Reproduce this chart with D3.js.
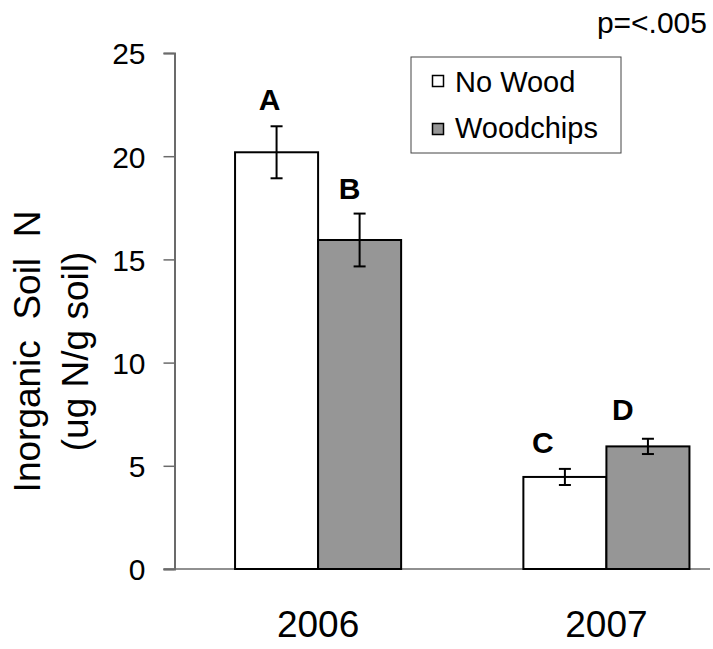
<!DOCTYPE html>
<html>
<head>
<meta charset="utf-8">
<script src="https://cdn.jsdelivr.net/npm/d3@7"></script>
<style>
  html, body { margin: 0; padding: 0; background: #fff; }
  svg { display: block; }
  text { font-family: "Liberation Sans", Arial, sans-serif; fill: #000; }
</style>
</head>
<body>
<svg id="chart" width="713" height="649"></svg>
<script>
// ---- data ----
const years = ["2006", "2007"];
const seriesNames = ["No Wood", "Woodchips"];
const noWood = [20.19, 4.46];
const woodchips = [15.94, 5.94];
const noWoodErr = [1.26, 0.39];
const woodchipsErr = [1.28, 0.37];
const letters = [["A", "C"], ["B", "D"]]; // [series][year]
const yTicks = [0, 5, 10, 15, 20, 25];
const pLabel = "p=<.005";
const yTitle = ["Inorganic  Soil  N", "(ug N/g soil)"];

// ---- layout ----
const W = 713, H = 649;
const axisX = 174.5, baseY = 569, topY = 53;
const svg = d3.select("#chart");
const colors = ["#ffffff", "#969696"];

const y = d3.scaleLinear().domain([0, 25]).range([baseY, topY]);
const x0 = d3.scaleBand().domain(years).range([axisX, 750]).paddingInner(0.424).paddingOuter(0.21);
const x1 = d3.scaleBand().domain(seriesNames).range([0, x0.bandwidth()]);

const values = [noWood, woodchips];
const errs = [noWoodErr, woodchipsErr];
const rows = [];
seriesNames.forEach((s, si) => {
  years.forEach((yr, yi) => {
    rows.push({ s, si, yr, yi, v: values[si][yi], e: errs[si][yi], letter: letters[si][yi] });
  });
});

// x baseline
svg.append("line")
  .attr("x1", axisX - 11).attr("x2", W - 3)
  .attr("y1", y(0)).attr("y2", y(0))
  .attr("stroke", "#6b6b6b").attr("stroke-width", 1.5);

// bars
svg.append("g").selectAll("rect").data(rows).join("rect")
  .attr("x", d => x0(d.yr) + x1(d.s))
  .attr("y", d => y(d.v))
  .attr("width", x1.bandwidth())
  .attr("height", d => y(0) - y(d.v))
  .attr("fill", d => colors[d.si])
  .attr("stroke", "#000").attr("stroke-width", 2);

// error bars
const eg = svg.append("g").attr("stroke", "#000").attr("stroke-width", 2);
rows.forEach(d => {
  const cx = x0(d.yr) + x1(d.s) + x1.bandwidth() / 2;
  eg.append("line").attr("x1", cx).attr("x2", cx).attr("y1", y(d.v + d.e)).attr("y2", y(d.v - d.e));
  eg.append("line").attr("x1", cx - 6).attr("x2", cx + 6).attr("y1", y(d.v + d.e)).attr("y2", y(d.v + d.e));
  eg.append("line").attr("x1", cx - 6).attr("x2", cx + 6).attr("y1", y(d.v - d.e)).attr("y2", y(d.v - d.e));
});

// significance letters
const letterDx = [[-7, -22], [-10, -25]];
const letterDy = [[-16, -16], [-15, -19]];
svg.append("g").selectAll("text").data(rows).join("text")
  .attr("x", d => x0(d.yr) + x1(d.s) + x1.bandwidth() / 2 + letterDx[d.si][d.yi])
  .attr("y", d => y(d.v + d.e) + letterDy[d.si][d.yi])
  .attr("text-anchor", "middle")
  .attr("font-size", 30).attr("font-weight", "bold")
  .text(d => d.letter);

// y axis
const yAxis = svg.append("g")
  .attr("transform", `translate(${axisX},0)`)
  .call(d3.axisLeft(y).tickValues(yTicks).tickSize(11).tickPadding(18).tickFormat(d3.format("d")));
yAxis.select(".domain").attr("stroke", "#6b6b6b").attr("stroke-width", 2);
yAxis.selectAll(".tick line").attr("stroke", "#6b6b6b").attr("stroke-width", 1.5);
yAxis.selectAll(".tick text")
  .attr("font-size", 30).attr("font-family", "Liberation Sans, Arial, sans-serif")
  .attr("fill", "#000").attr("dy", "0.36em");

// x axis labels
const xAxis = svg.append("g")
  .attr("transform", `translate(0,${baseY})`)
  .call(d3.axisBottom(x0).tickSize(0).tickPadding(42));
xAxis.select(".domain").remove();
xAxis.selectAll(".tick text")
  .attr("font-size", 37).attr("font-family", "Liberation Sans, Arial, sans-serif")
  .attr("fill", "#000");

// y title
yTitle.forEach((t, i) => {
  svg.append("text")
    .attr("transform", `translate(${40 + i * 48},351.5) rotate(-90)`)
    .attr("text-anchor", "middle")
    .attr("font-size", 37)
    .style("white-space", "pre")
    .text(t);
});

// p label
svg.append("text")
  .attr("x", 707).attr("y", 33)
  .attr("text-anchor", "end")
  .attr("font-size", 30)
  .text(pLabel);

// legend
const lg = svg.append("g");
lg.append("rect").attr("x", 411).attr("y", 57).attr("width", 210).attr("height", 96)
  .attr("fill", "#fff").attr("stroke", "#444").attr("stroke-width", 1);
seriesNames.forEach((s, i) => {
  lg.append("rect").attr("x", 432.5).attr("y", 75.5 + i * 48).attr("width", 11).attr("height", 11)
    .attr("fill", colors[i]).attr("stroke", "#000").attr("stroke-width", 1.5);
  lg.append("text").attr("x", 455).attr("y", 91.5 + i * 46.5)
    .attr("font-size", 29).text(s);
});
</script>
</body>
</html>
